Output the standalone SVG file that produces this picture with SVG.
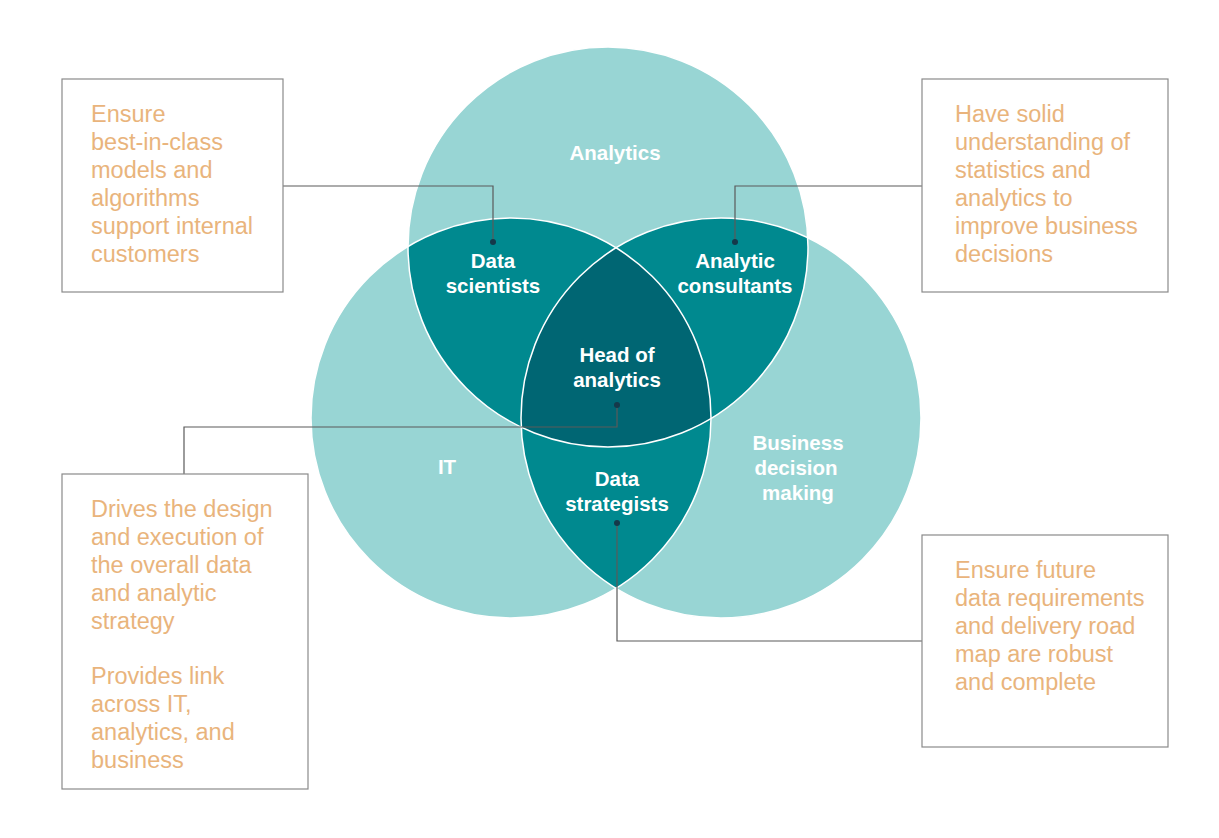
<svg xmlns="http://www.w3.org/2000/svg" width="1219" height="838" viewBox="0 0 1219 838">
<style>
.lbl{font-family:"Liberation Sans",Arial,sans-serif;font-weight:bold;font-size:20.5px;fill:#ffffff;text-anchor:middle}
.box{fill:#ffffff;stroke:#8a8a8a;stroke-width:1.2}
.bt{font-family:"Liberation Sans",Arial,sans-serif;font-size:23.5px;fill:#e9b47c}
.con{fill:none;stroke:#5a5a5a;stroke-width:1.2}
.dot{fill:#15394a}
.light{fill:#98d5d4}
.mid{fill:#00898f}
.dark{fill:#006673}
.edge{fill:none;stroke:#ffffff;stroke-width:1.5}
</style>
<defs>
<clipPath id="cA"><circle cx="608" cy="247" r="200"/></clipPath>
<clipPath id="cI"><circle cx="511" cy="418" r="200"/></clipPath>
<clipPath id="cB"><circle cx="721" cy="418" r="200"/></clipPath>
</defs>
<rect width="1219" height="838" fill="#ffffff"/>
<g id="venn">
<g id="analytics"><circle class="light" cx="608" cy="247" r="200"/></g>
<g id="it"><circle class="light" cx="511" cy="418" r="200"/></g>
<g id="business"><circle class="light" cx="721" cy="418" r="200"/></g>
<g id="data-scientists"><circle class="mid" cx="608" cy="247" r="200" clip-path="url(#cI)"/></g>
<g id="analytic-consultants"><circle class="mid" cx="608" cy="247" r="200" clip-path="url(#cB)"/></g>
<g id="data-strategists"><circle class="mid" cx="511" cy="418" r="200" clip-path="url(#cB)"/></g>
<g id="head-of-analytics"><g clip-path="url(#cB)"><circle class="dark" cx="608" cy="247" r="200" clip-path="url(#cI)"/></g></g>
<circle class="edge" cx="608" cy="247" r="200"/>
<circle class="edge" cx="511" cy="418" r="200"/>
<circle class="edge" cx="721" cy="418" r="200"/>
<text class="lbl" x="615" y="160">Analytics</text>
<text class="lbl" x="493" y="268">Data</text>
<text class="lbl" x="493" y="293">scientists</text>
<text class="lbl" x="735" y="268">Analytic</text>
<text class="lbl" x="735" y="293">consultants</text>
<text class="lbl" x="617" y="362">Head of</text>
<text class="lbl" x="617" y="387">analytics</text>
<text class="lbl" x="447" y="474">IT</text>
<text class="lbl" x="617" y="486">Data</text>
<text class="lbl" x="617" y="511">strategists</text>
<text class="lbl" x="798" y="450">Business</text>
<text class="lbl" x="796" y="475">decision</text>
<text class="lbl" x="798" y="500">making</text>
</g>
<g id="connectors">
<polyline class="con" points="283,186 493,186 493,241"/>
<polyline class="con" points="922,186 735,186 735,241"/>
<polyline class="con" points="617,405 617,427 184,427 184,474"/>
<polyline class="con" points="617,523 617,641 922,641"/>
<circle class="dot" cx="493" cy="242" r="3"/>
<circle class="dot" cx="735" cy="242" r="3"/>
<circle class="dot" cx="617" cy="405" r="3"/>
<circle class="dot" cx="617" cy="523" r="3"/>
</g>
<g id="box-data-scientists">
<rect class="box" x="62" y="79" width="221" height="213"/>
<text class="bt" x="91" y="122">Ensure</text>
<text class="bt" x="91" y="150">best-in-class</text>
<text class="bt" x="91" y="178">models and</text>
<text class="bt" x="91" y="206">algorithms</text>
<text class="bt" x="91" y="234">support internal</text>
<text class="bt" x="91" y="262">customers</text>
</g>
<g id="box-analytic-consultants">
<rect class="box" x="922" y="79" width="246" height="213"/>
<text class="bt" x="955" y="122">Have solid</text>
<text class="bt" x="955" y="150">understanding of</text>
<text class="bt" x="955" y="178">statistics and</text>
<text class="bt" x="955" y="206">analytics to</text>
<text class="bt" x="955" y="234">improve business</text>
<text class="bt" x="955" y="262">decisions</text>
</g>
<g id="box-head-of-analytics">
<rect class="box" x="62" y="474" width="246" height="315"/>
<text class="bt" x="91" y="517">Drives the design</text>
<text class="bt" x="91" y="545">and execution of</text>
<text class="bt" x="91" y="573">the overall data</text>
<text class="bt" x="91" y="601">and analytic</text>
<text class="bt" x="91" y="629">strategy</text>
<text class="bt" x="91" y="684">Provides link</text>
<text class="bt" x="91" y="712">across IT,</text>
<text class="bt" x="91" y="740">analytics, and</text>
<text class="bt" x="91" y="768">business</text>
</g>
<g id="box-data-strategists">
<rect class="box" x="922" y="535" width="246" height="212"/>
<text class="bt" x="955" y="578">Ensure future</text>
<text class="bt" x="955" y="606">data requirements</text>
<text class="bt" x="955" y="634">and delivery road</text>
<text class="bt" x="955" y="662">map are robust</text>
<text class="bt" x="955" y="690">and complete</text>
</g>
</svg>
